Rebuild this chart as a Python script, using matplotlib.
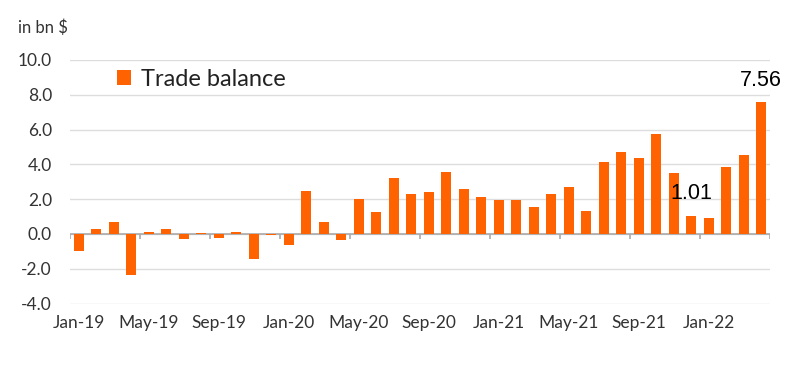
import numpy as np
import matplotlib.pyplot as plt

plt.rcParams['font.family'] = 'Lato'

months = ['Jan-19', 'Feb-19', 'Mar-19', 'Apr-19', 'May-19', 'Jun-19', 'Jul-19', 'Aug-19',
          'Sep-19', 'Oct-19', 'Nov-19', 'Dec-19', 'Jan-20', 'Feb-20', 'Mar-20', 'Apr-20',
          'May-20', 'Jun-20', 'Jul-20', 'Aug-20', 'Sep-20', 'Oct-20', 'Nov-20', 'Dec-20',
          'Jan-21', 'Feb-21', 'Mar-21', 'Apr-21', 'May-21', 'Jun-21', 'Jul-21', 'Aug-21',
          'Sep-21', 'Oct-21', 'Nov-21', 'Dec-21', 'Jan-22', 'Feb-22', 'Mar-22', 'Apr-22']
trade_balance = [-0.96, 0.31, 0.71, -2.35, 0.12, 0.27, -0.31, 0.08, -0.21, 0.12, -1.42, -0.06,
                 -0.65, 2.48, 0.71, -0.37, 2.00, 1.25, 3.21, 2.31, 2.40, 3.56, 2.60, 2.10,
                 1.96, 1.96, 1.58, 2.31, 2.69, 1.33, 4.13, 4.71, 4.38, 5.75, 3.50, 1.01,
                 0.94, 3.87, 4.54, 7.56]
yticks = [-4, -2, 0, 2, 4, 6, 8, 10]

orange = '#FF6200'
txt = '#333333'

fig = plt.figure(figsize=(8, 3.68), dpi=100)
ax = fig.add_axes([0.0875, 0.175, 0.875, 0.662])

x = np.arange(len(months))
ax.bar(x, trade_balance, width=0.57, color=orange, zorder=3, label='Trade balance')

ax.set_xlim(-0.5, len(months) - 0.5)
ax.set_ylim(-4, 10)
ax.set_yticks(yticks)
ax.set_yticklabels(['%.1f' % v for v in yticks])
ax.grid(axis='y', color='#dddddd', linewidth=1, zorder=0)
ax.axhline(0, color='#aaaaaa', linewidth=1.2, zorder=2)
# small tick marks on the zero line between groups of four months
ax.vlines(np.arange(-0.5, len(months), 4), -0.3, 0, color='#aaaaaa', linewidth=1.2, zorder=2)

ax.set_xticks(x[::4])
ax.set_xticklabels(months[::4])
ax.tick_params(axis='x', length=0, pad=8, labelsize=12.5, colors=txt)
ax.tick_params(axis='y', length=0, pad=13, labelsize=12.5, colors=txt)
for s in ax.spines.values():
    s.set_visible(False)

fig.text(0.022, 0.925, 'in bn $', fontsize=12, color=txt, va='center')

leg = ax.legend(loc='upper left', bbox_to_anchor=(0.037, 1.05), frameon=False,
                fontsize=17, handlelength=0.6, handleheight=0.6, handletextpad=0.4)
for t in leg.get_texts():
    t.set_color('#222222')

ax.text(35, 2.35, '1.01', fontsize=15.5, color='black', ha='center', va='center',
        family='Liberation Sans', zorder=4)
ax.text(39, 8.8, '7.56', fontsize=15.5, color='black', ha='center', va='center',
        family='Liberation Sans', zorder=4)

fig.savefig('out.png', dpi=100)
